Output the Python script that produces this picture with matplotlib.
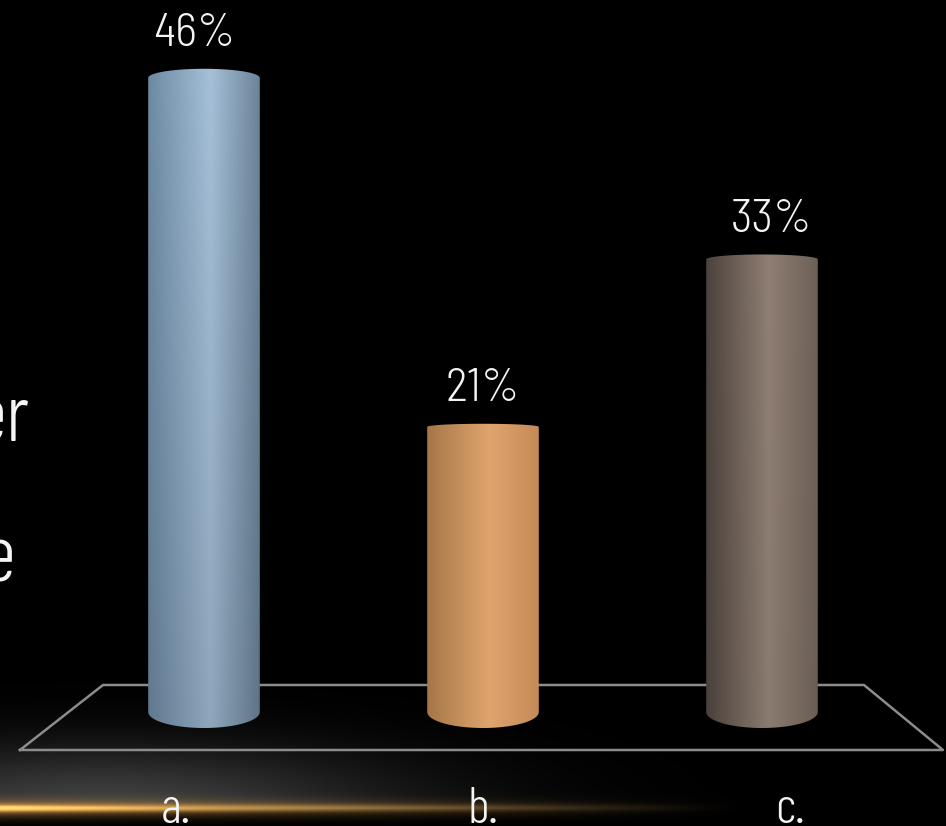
import numpy as np
import matplotlib
matplotlib.use('Agg')
import matplotlib.pyplot as plt
from matplotlib.patches import PathPatch
from matplotlib.path import Path

# chart values
categories = ['a.', 'b.', 'c.']
values = [46, 21, 33]
labels = ['46%', '21%', '33%']

# shading across each cylinder: left edge, highlight, right edge
left_cols = ['#6d8aa4', '#a67648', '#4c423d']
mid_cols = ['#a5c0d8', '#e0a56e', '#8f7f74']
right_cols = ['#6c8499', '#c48a58', '#6d6056']
foot_dim = [0.87, 1.0, 0.97]

W, H = 946, 826
font = ['Barlow Condensed', 'DejaVu Sans']
font_wide = ['Barlow Semi Condensed', 'Barlow Condensed', 'DejaVu Sans']
txt = '#f4f4f4'

# y axis: 0% sits at pixel 720, one percent is 13.96 pixels
y0_px = 720
px_per_pct = 13.96

fig = plt.figure(figsize=(W / 100, H / 100), dpi=100, facecolor='black')

# background layer in pixel coordinates
bg = fig.add_axes([0, 0, 1, 1])
bg.set_xlim(0, W)
bg.set_ylim(H, 0)
bg.axis('off')

xx, yy = np.meshgrid(np.arange(W), np.arange(H))
glow = np.exp(-(((xx - 100) / 300.0) ** 2 + ((yy - 805) / 60.0) ** 2)) * 0.25
glow[yy > 808] = 0
rgb = np.dstack([glow, glow, glow])

# gold streak along the bottom
fade = np.clip(1 - xx / 740.0, 0, 1) ** 1.2
core = np.exp(-((yy - 807.5) / 3.5) ** 2) * fade
halo = np.exp(-((yy - 808) / 9.0) ** 2) * fade * 0.6
rgb = rgb * (1 - np.clip(core + halo, 0, 1)[..., None])
rgb = rgb + core[..., None] * np.array([0.72, 0.58, 0.32]) + halo[..., None] * np.array([0.80, 0.55, 0.24])
bg.imshow(np.clip(rgb, 0, 1), extent=(0, W, H, 0), aspect='auto', zorder=0)

# floor of the 3D chart
bg.plot([20, 103, 864, 943, 20], [750, 685, 685, 750, 750], color='#8c8c8c', lw=1.8, zorder=1)

# cut-off slide text on the left
bg.text(29, 442, 'er', color=txt, fontsize=59, family=font, weight=300, ha='right', va='baseline')
bg.text(15, 582, 'e', color=txt, fontsize=59, family=font, weight=300, ha='right', va='baseline')

# chart layer, y axis in percent
ax = fig.add_axes([0, 0, 1, 1])
ax.patch.set_alpha(0)
ax.axis('off')


def hex_rgb(c):
    return np.array(matplotlib.colors.to_rgb(c))


bar_w = 0.40
foot_y = 8 / px_per_pct
bot_h = 16 / px_per_pct
t = np.linspace(0, np.pi, 60)
for i, v in enumerate(values):
    half = bar_w / 2
    # caps look rounder the higher the bar goes
    top_h = max(0.22, 0.65 * (v - 18) / 28)
    bx = i - half * np.cos(t)
    by = foot_y - bot_h * np.sin(t)
    tx = i + half * np.cos(t)
    ty = v + top_h * np.sin(t)
    verts = np.column_stack([np.r_[bx, tx], np.r_[by, ty]])
    clip = PathPatch(Path(np.vstack([verts, verts[0]]), closed=True), fc='none', ec='none', transform=ax.transData)
    ax.add_patch(clip)

    u = np.linspace(0, 1, 200)
    c0, c1, c2 = hex_rgb(left_cols[i]), hex_rgb(mid_cols[i]), hex_rgb(right_cols[i])
    row = np.zeros((200, 3))
    for ch in range(3):
        row[:, ch] = np.interp(u, [0, 0.56, 1], [c0[ch], c1[ch], c2[ch]])
    # dimmer towards the foot of the cylinder
    vert = np.linspace(1.0, foot_dim[i], 120)[:, None, None]
    img = row[None, :, :] * vert
    im = ax.imshow(np.clip(img, 0, 1), extent=(i - half, i + half, foot_y - bot_h, v + top_h),
                   aspect='auto', origin='upper', zorder=3, interpolation='bilinear')
    im.set_clip_path(clip)

    # labels spread out a bit wider than the bars because of the perspective
    ax.text(1 + (i - 1) * 1.036, v + top_h + 1.6, labels[i], color=txt, fontsize=34, family=font_wide, weight=300,
            ha='center', va='baseline', zorder=4)
    ax.text(1 + (i - 1) * 1.1, (y0_px - 823) / px_per_pct, categories[i], color=txt, fontsize=37, family=font, weight=300,
            ha='center', va='baseline', zorder=4)

ax.set_xlim(-204 / 279, (W - 204) / 279)
ax.set_ylim((y0_px - H) / px_per_pct, y0_px / px_per_pct)

fig.savefig('out.png', dpi=100, facecolor='black')
